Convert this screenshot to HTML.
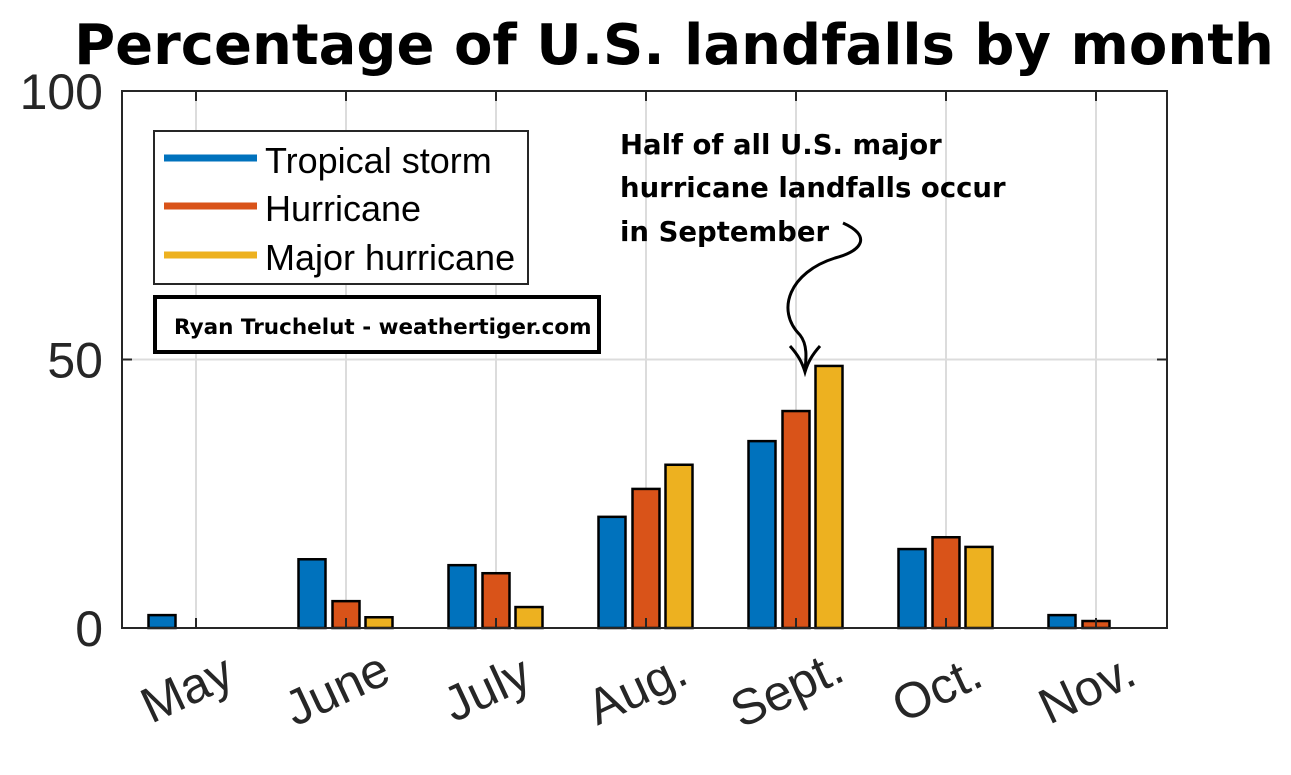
<!DOCTYPE html>
<html><head><meta charset="utf-8"><style>
body{margin:0;background:#fff;width:1291px;height:775px;overflow:hidden}
svg{display:block}
</style></head><body>
<svg width="1291" height="775" font-family="Liberation Sans, sans-serif">
<text x="674" y="64" text-anchor="middle" font-size="56" font-weight="bold" font-family="DejaVu Sans, sans-serif">Percentage of U.S. landfalls by month</text>
<g id="grid"></g>
<g id="bars"></g>
<rect x="122" y="91" width="1045" height="537" fill="none" stroke="#262626" stroke-width="2"/>
<g id="yticks"></g>
<g id="xticks"></g>
<g>
<rect x="154" y="131" width="374" height="153" fill="#fff" stroke="#262626" stroke-width="2"/>
<line x1="164" y1="158" x2="257" y2="158" stroke="#0072BD" stroke-width="7"/>
<text x="265" y="173" font-size="36" fill="#000">Tropical storm</text>
<line x1="164" y1="206" x2="257" y2="206" stroke="#D95319" stroke-width="7"/>
<text x="265" y="221" font-size="36" fill="#000">Hurricane</text>
<line x1="164" y1="255" x2="257" y2="255" stroke="#EDB120" stroke-width="7"/>
<text x="265" y="270" font-size="36" fill="#000">Major hurricane</text>
</g>
<g>
<rect x="155" y="297" width="444" height="55" fill="#fff" stroke="#000" stroke-width="4"/>
<text x="174" y="334" font-size="21.5" font-weight="bold" font-family="DejaVu Sans, sans-serif">Ryan Truchelut - weathertiger.com</text>
</g>
<g font-size="27.5" font-weight="bold" font-family="DejaVu Sans, sans-serif">
<text x="620" y="154">Half of all U.S. major</text>
<text x="620" y="197">hurricane landfalls occur</text>
<text x="620" y="241">in September</text>
<path d="M843,223 C870,235 865,250 835,258 C790,272 775,310 800,335 C808,345 806,360 805,370" fill="none" stroke="#000" stroke-width="3"/>
<path d="M790,346 C798,355 802,362 805,372 C808,362 812,355 820,346" fill="none" stroke="#000" stroke-width="3"/>
</g>
<script>
const months=["May","June","July","Aug.","Sept.","Oct.","Nov."];
const tropicalStorm=[2.4,12.8,11.7,20.7,34.8,14.7,2.4];
const hurricane=[0,5.0,10.2,25.9,40.4,16.9,1.3];
const majorHurricane=[0,2.0,3.9,30.4,48.8,15.1,0];
const yTicks=[0,50,100];
const NS="http://www.w3.org/2000/svg";
const X0=122,X1=1167,Y0=628,Y1=91;
function xs(i){return 196+150*i;}
function ys(v){return Y0-(v/100)*(Y0-Y1);}
function mk(t,a,p){const e=document.createElementNS(NS,t);for(const k in a)e.setAttribute(k,a[k]);p.appendChild(e);return e;}
const grid=document.getElementById('grid'),bars=document.getElementById('bars'),yt=document.getElementById('yticks'),xt=document.getElementById('xticks');
months.forEach((m,i)=>{const l=mk('line',{x1:xs(i),x2:xs(i),y1:Y1,y2:Y0,stroke:'#dcdcdc','stroke-width':2},grid);


const t=mk('text',{x:0,y:0,'font-size':50,fill:'#262626','text-anchor':'middle',transform:`translate(${xs(i)-2},${704}) rotate(-25)`},xt);t.textContent=m;


mk('line',{x1:xs(i),x2:xs(i),y1:Y0,y2:Y0-10,stroke:'#262626','stroke-width':2},xt);
mk('line',{x1:xs(i),x2:xs(i),y1:Y1,y2:Y1+10,stroke:'#262626','stroke-width':2},xt);});
yTicks.forEach(v=>{if(v>0&&v<100){const g=mk('line',{x1:X0,x2:X1,y1:ys(v),y2:ys(v),stroke:'#dcdcdc','stroke-width':2},grid);

}
mk('line',{x1:X0,x2:X0+10,y1:ys(v),y2:ys(v),stroke:'#262626','stroke-width':2},yt);
mk('line',{x1:X1,x2:X1-10,y1:ys(v),y2:ys(v),stroke:'#262626','stroke-width':2},yt);
const t=mk('text',{x:103,y:ys(v)+18,'font-size':50,fill:'#262626','text-anchor':'end'},yt);t.textContent=v;

});
const series=[[tropicalStorm,'#0072BD',-34,'tropical-storm'],[hurricane,'#D95319',0,'hurricane'],[majorHurricane,'#EDB120',33,'major-hurricane']];
series.forEach(([vals,c,off,nm])=>vals.forEach((v,i)=>{if(v<=0)return;
const r=mk('rect',{x:xs(i)+off-13.5,y:ys(v),width:27,height:Y0-ys(v),fill:c,stroke:'#000','stroke-width':2.5},bars);

}));
</script>
</svg>
</body></html>
